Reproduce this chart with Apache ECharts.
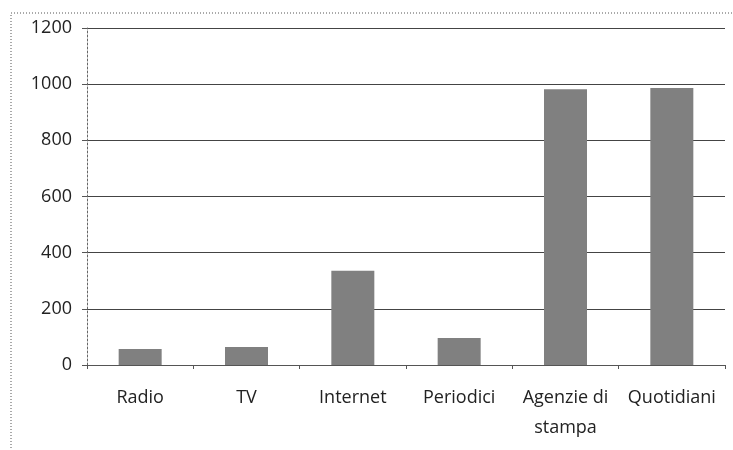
<!DOCTYPE html>
<html>
<head>
<meta charset="utf-8">
<script src="https://cdn.jsdelivr.net/npm/echarts@6/dist/echarts.min.js"></script>
<style>
  html, body { margin: 0; padding: 0; background: #fff; }
  #chart { width: 733px; height: 450px; }
</style>
</head>
<body>
<div id="chart"></div>
<script>
// categorie e valori
const categories = ["Radio", "TV", "Internet", "Periodici", "Agenzie di\nstampa", "Quotidiani"];
const values = [57, 64, 336, 96, 982, 986];
const yTicks = [0, 200, 400, 600, 800, 1000, 1200];

const chart = echarts.init(document.getElementById("chart"));

const option = {
  animation: false,
  backgroundColor: "#ffffff",
  textStyle: { fontFamily: "Open Sans" },
  // cornice tratteggiata esterna
  graphic: [
    {
      type: "rect",
      shape: { x: 11, y: 13, width: 740, height: 460 },
      style: { fill: "none", stroke: "#555", lineWidth: 1, lineDash: [1, 2] },
      silent: true
    }
  ],
  grid: { left: 87, right: 8, top: 28, bottom: 85 },
  xAxis: {
    type: "category",
    data: categories,
    axisLine: { show: true, lineStyle: { color: "#555", width: 1 } },
    axisTick: { show: true, length: 4, lineStyle: { color: "#555" } },
    axisLabel: {
      color: "#222",
      fontSize: 18,
      margin: 18,
      lineHeight: 30,
      interval: 0
    }
  },
  yAxis: {
    type: "value",
    min: yTicks[0],
    max: yTicks[yTicks.length - 1],
    interval: 200,
    axisLine: { show: true, lineStyle: { color: "#666", width: 1, type: [2, 2] } },
    axisTick: { show: true, length: 5, lineStyle: { color: "#555" } },
    axisLabel: { color: "#222", fontSize: 18, margin: 15, formatter: v => String(v) },
    splitLine: { show: true, lineStyle: { color: "#444", width: 1 } }
  },
  series: [
    {
      type: "bar",
      data: values,
      barWidth: 43,
      itemStyle: { color: "#808080" }
    }
  ]
};

chart.setOption(option);
</script>
</body>
</html>
